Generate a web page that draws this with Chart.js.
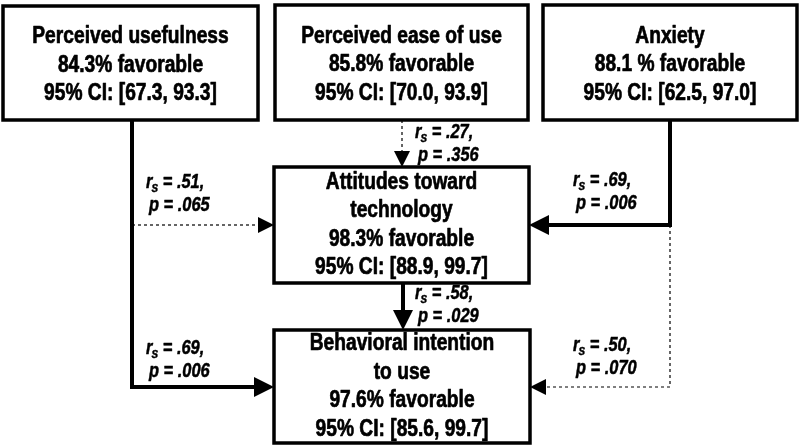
<!DOCTYPE html>
<html><head><meta charset="utf-8">
<script src="https://cdn.jsdelivr.net/npm/chart.js@4"></script>
<style>html,body{margin:0;padding:0;background:#fff}#wrap{width:800px;height:448px;position:relative}</style>
</head><body><div id="wrap"><canvas id="c"></canvas></div>
<script>
// ---- data ----
const nodeTitles = [['Perceived usefulness'], ['Perceived ease of use'], ['Anxiety'], ['Attitudes toward', 'technology'], ['Behavioral intention', 'to use']];
const favorable = [84.3, 85.8, 88.1, 98.3, 97.6];
const pctSep = ['', '', ' ', '', ''];
const ciLow = [67.3, 70.0, 62.5, 88.9, 85.6];
const ciHigh = [93.3, 93.9, 97.0, 99.7, 99.7];
const edgeFrom = [0, 1, 2, 3, 0, 2];
const edgeTo = [3, 3, 3, 4, 4, 4];
const edgeRs = ['.51', '.27', '.69', '.58', '.69', '.50'];
const edgeP = ['.065', '.356', '.006', '.029', '.006', '.070'];

// ---- layout (diagram units on a 800 x 448 grid) ----
const boxes = [[3, 6, 258, 120], [275, 5, 528, 120], [543, 5, 797, 120], [274, 167, 529, 283], [274, 330, 530, 443]];
const paths = [
  [[132, 225], [274, 225]],
  [[402, 120], [402, 167]],
  [[670, 120], [670, 225], [529, 225]],
  [[403, 283], [403, 330]],
  [[132, 120], [132, 387], [274, 387]],
  [[670, 225], [670, 387], [530, 387]]
];
const labelPos = [[146, 182], [415, 132], [573, 180], [415, 293], [146, 348], [573, 345]];

const sig = edgeP.map(p => parseFloat(p) < 0.05);

function trimmed(path, len) {
  const pts = path.map(p => ({x: p[0], y: p[1]}));
  const a = pts[pts.length - 2], b = pts[pts.length - 1];
  const dx = b.x - a.x, dy = b.y - a.y, d = Math.hypot(dx, dy);
  pts[pts.length - 1] = {x: b.x - dx / d * len, y: b.y - dy / d * len};
  return pts;
}

const datasets = paths.map((path, i) => ({
  label: nodeTitles[edgeFrom[i]].join(' ') + ' → ' + nodeTitles[edgeTo[i]].join(' '),
  data: trimmed(path, sig[i] ? 10 : 8),
  showLine: true,
  borderColor: '#000',
  borderWidth: sig[i] ? 4 : 1.2,
  borderDash: sig[i] ? [] : [3, 3],
  borderJoinStyle: 'miter',
  borderCapStyle: 'butt',
  pointRadius: 0,
  fill: false,
  tension: 0
}));

const FONT = '"Liberation Sans", Arial, sans-serif';

function squeezed(ctx, text, x, y, sx, align, sw) {
  ctx.save();
  ctx.translate(x, y);
  ctx.scale(sx, 1);
  ctx.textAlign = align;
  ctx.fillText(text, 0, 0);
  if (sw) {
    ctx.lineWidth = sw;
    ctx.strokeStyle = '#000';
    ctx.lineJoin = 'round';
    ctx.strokeText(text, 0, 0);
  }
  ctx.restore();
  return ctx.measureText(text).width * sx;
}

const diagram = {
  id: 'diagram',
  afterDatasetsDraw(chart) {
    const ctx = chart.ctx, xs = chart.scales.x, ys = chart.scales.y;
    const X = v => xs.getPixelForValue(v), Y = v => ys.getPixelForValue(v);
    ctx.save();
    // arrowheads
    paths.forEach((path, i) => {
      const a = path[path.length - 2], b = path[path.length - 1];
      const ax = X(a[0]), ay = Y(a[1]), bx = X(b[0]), by = Y(b[1]);
      const ang = Math.atan2(by - ay, bx - ax);
      const L = sig[i] ? 20 : 16, W = sig[i] ? 10 : 8;
      ctx.beginPath();
      ctx.moveTo(bx, by);
      ctx.lineTo(bx - L * Math.cos(ang) + W * Math.sin(ang), by - L * Math.sin(ang) - W * Math.cos(ang));
      ctx.lineTo(bx - L * Math.cos(ang) - W * Math.sin(ang), by - L * Math.sin(ang) + W * Math.cos(ang));
      ctx.closePath();
      ctx.fillStyle = '#000';
      ctx.fill();
    });
    // boxes
    boxes.forEach((bx, i) => {
      const x1 = X(bx[0]), y1 = Y(bx[1]), x2 = X(bx[2]), y2 = Y(bx[3]);
      ctx.fillStyle = '#fff';
      ctx.fillRect(x1, y1, x2 - x1, y2 - y1);
      ctx.lineWidth = 3.5;
      ctx.strokeStyle = '#000';
      ctx.lineJoin = 'miter';
      ctx.strokeRect(x1, y1, x2 - x1, y2 - y1);
      const lines = nodeTitles[i].concat([
        favorable[i].toFixed(1) + pctSep[i] + '% favorable',
        '95% CI: [' + ciLow[i].toFixed(1) + ', ' + ciHigh[i].toFixed(1) + ']'
      ]);
      const lh = 28.5, cx = (x1 + x2) / 2, cy = (y1 + y2) / 2 + (i < 3 ? 2 : 0);
      ctx.font = 'bold 24px ' + FONT;
      ctx.fillStyle = '#000';
      ctx.textBaseline = 'middle';
      lines.forEach((t, k) => {
        squeezed(ctx, t, cx, cy + (k - (lines.length - 1) / 2) * lh, 0.8, 'center', 0.7);
      });
    });
    // edge labels
    ctx.textBaseline = 'middle';
    const LS = 0.82;
    labelPos.forEach((lp, i) => {
      let x = X(lp[0]);
      const y = Y(lp[1]);
      ctx.font = 'italic bold 20px ' + FONT;
      x += squeezed(ctx, 'r', x, y, LS, 'left', 0.5);
      ctx.font = 'italic bold 15px ' + FONT;
      x += squeezed(ctx, 's', x - 1, y + 6, LS, 'left', 0.4);
      ctx.font = 'italic bold 20px ' + FONT;
      squeezed(ctx, ' = ' + edgeRs[i] + ',', x - 1, y, LS, 'left', 0.5);
      squeezed(ctx, 'p = ' + edgeP[i], X(lp[0]) + 3, y + 23, LS, 'left', 0.5);
    });
    ctx.restore();
  }
};

new Chart(document.getElementById('c'), {
  type: 'line',
  data: {datasets},
  options: {
    responsive: true,
    maintainAspectRatio: false,
    animation: false,
    layout: {padding: 0},
    plugins: {legend: {display: false}, tooltip: {enabled: false}},
    scales: {
      x: {type: 'linear', min: 0, max: 800, display: false},
      y: {type: 'linear', min: 0, max: 448, reverse: true, display: false}
    }
  },
  plugins: [diagram]
});
</script></body></html>
